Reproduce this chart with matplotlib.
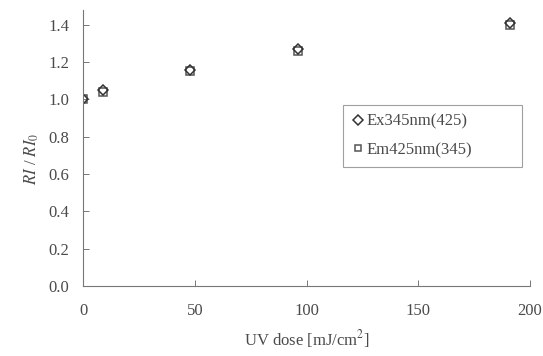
import matplotlib
matplotlib.use("Agg")
import matplotlib.pyplot as plt

plt.rcParams['font.family'] = ['Liberation Serif', 'DejaVu Serif']
plt.rcParams['mathtext.fontset'] = 'stix'

dose = [0, 9, 48, 96, 191]
ex345 = [1.00, 1.05, 1.16, 1.27, 1.41]
em425 = [1.00, 1.04, 1.155, 1.26, 1.40]

yticks = [0.0, 0.2, 0.4, 0.6, 0.8, 1.0, 1.2, 1.4]
xticks = [0, 50, 100, 150, 200]

ink = '#4a4a4a'

fig = plt.figure(figsize=(5.43, 3.56), dpi=100)
ax = fig.add_axes([0.153, 0.197, 0.823, 0.775])

ax.plot(dose, em425, linestyle='none', marker='s', markersize=5.5,
        markerfacecolor='none', markeredgecolor='#555555', markeredgewidth=1.1,
        label='Em425nm(345)')
ax.plot(dose, ex345, linestyle='none', marker='D', markersize=5.5,
        markerfacecolor='none', markeredgecolor='#333333', markeredgewidth=1.1,
        label='Ex345nm(425)')

ax.set_xlim(0, 200)
ax.set_ylim(0, 1.48)
ax.set_xticks(xticks)
ax.set_yticks(yticks)
ax.set_yticklabels(['%.1f' % v for v in yticks])

for side in ['top', 'right']:
    ax.spines[side].set_visible(False)
for side in ['left', 'bottom']:
    ax.spines[side].set_color('#777777')
    ax.spines[side].set_linewidth(0.8)

ax.tick_params(direction='in', length=4, width=0.7, color='#777777',
               labelcolor=ink, labelsize=12)
ax.tick_params(axis='x', pad=12)
ax.tick_params(axis='y', pad=10)

ax.set_xlabel('UV dose [mJ/cm$^2$]', fontsize=12, color=ink, labelpad=7)
ax.set_ylabel('$RI$ / $RI_0$', fontsize=12, color=ink)
ax.yaxis.set_label_coords(-0.095, 0.46)

# legend box sized like the original, in axes fractions
handles, labels = ax.get_legend_handles_labels()
leg = ax.legend(handles[::-1], labels[::-1], loc='center',
                bbox_to_anchor=(0.582, 0.438, 0.40, 0.21), mode='expand',
                frameon=True, fancybox=False,
                fontsize=12, handletextpad=0.1, handlelength=0.8,
                borderpad=0.5, labelspacing=0.75, borderaxespad=0,
                markerscale=0.9)
leg.get_frame().set_edgecolor('#888888')
leg.get_frame().set_linewidth(0.8)
for t in leg.get_texts():
    t.set_color(ink)

fig.savefig('out.png', dpi=100)
